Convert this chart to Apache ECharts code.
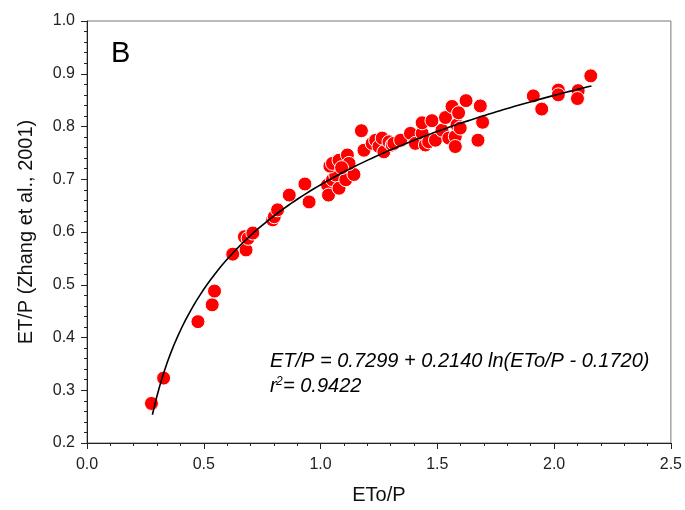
<!DOCTYPE html>
<html>
<head>
<meta charset="utf-8">
<style>html,body{margin:0;padding:0;background:#fff;}#c{width:685px;height:510px;}</style>
<script src="https://cdn.jsdelivr.net/npm/echarts@6/dist/echarts.min.js"></script>
</head>
<body>
<div id="c"></div>
<script>
// Observed data: ETo/P (x) and ET/P (y)
const etoP = [0.276,0.328,0.475,0.536,0.546,0.624,0.681,0.674,0.690,0.710,0.795,0.802,0.816,0.866,0.933,0.951,1.030,1.034,1.051,1.065,1.079,1.108,1.143,1.040,1.051,1.079,1.115,1.122,1.090,1.175,1.186,1.221,1.236,1.250,1.264,1.271,1.293,1.307,1.314,1.343,1.385,1.406,1.435,1.435,1.449,1.463,1.477,1.492,1.520,1.535,1.549,1.563,1.577,1.577,1.584,1.591,1.598,1.623,1.674,1.684,1.694,1.911,1.947,2.018,2.018,2.103,2.100,2.157];
const etP  = [0.275,0.323,0.430,0.462,0.488,0.558,0.566,0.591,0.588,0.598,0.623,0.629,0.642,0.670,0.691,0.657,0.689,0.670,0.699,0.708,0.683,0.699,0.709,0.725,0.730,0.736,0.746,0.730,0.722,0.792,0.755,0.768,0.774,0.762,0.778,0.752,0.771,0.765,0.768,0.774,0.787,0.768,0.787,0.807,0.765,0.771,0.811,0.774,0.793,0.817,0.778,0.838,0.781,0.762,0.803,0.826,0.797,0.849,0.774,0.839,0.808,0.858,0.833,0.869,0.860,0.868,0.853,0.896];
// Fitted regression printed on the chart: ET/P = a + b ln(ETo/P - c)
const fitA = 0.7299, fitB = 0.2140, fitC = 0.1720;
const fitXStart = 0.28, fitXEnd = 2.16;
const xTicks = ['0.0','0.5','1.0','1.5','2.0','2.5'];
const yTicks = ['0.2','0.3','0.4','0.5','0.6','0.7','0.8','0.9','1.0'];

const pts = etoP.map((x,i)=>[x, etP[i]]);
const fit = [];
for (let k=0;k<=120;k++){ const x = fitXStart + (fitXEnd-fitXStart)*k/120; fit.push([x, fitA + fitB*Math.log(x-fitC)]); }

const font = 'Liberation Sans, Arial, sans-serif';
const chart = echarts.init(document.getElementById('c'), null, {renderer:'canvas'});
chart.setOption({
  animation:false,
  backgroundColor:'#fff',
  grid:{left:87,right:12,top:21,bottom:67,show:true,borderColor:'#777',borderWidth:1,backgroundColor:'transparent'},
  xAxis:{type:'value',min:0,max:2.5,interval:0.5,
    name:'ETo/P',nameLocation:'middle',nameGap:42,
    nameTextStyle:{fontFamily:font,fontSize:20,color:'#111'},
    axisLine:{show:true,onZero:false,lineStyle:{color:'#222',width:1}},
    axisTick:{show:true,inside:false,length:6,lineStyle:{color:'#222'}},
    minorTick:{show:true,splitNumber:5,length:3,lineStyle:{color:'#222'}},
    splitLine:{show:false},
    axisLabel:{fontFamily:font,fontSize:16,color:'#222',margin:14,formatter:v=>xTicks[Math.round(v/0.5)]}
  },
  yAxis:{type:'value',min:0.2,max:1.0,interval:0.1,
    name:'ET/P (Zhang et al., 2001)',nameLocation:'middle',nameGap:51,
    nameTextStyle:{fontFamily:font,fontSize:20,color:'#111'},
    axisLine:{show:true,onZero:false,lineStyle:{color:'#222',width:1}},
    axisTick:{show:true,inside:false,length:6,lineStyle:{color:'#222'}},
    minorTick:{show:true,splitNumber:5,length:3,lineStyle:{color:'#222'}},
    splitLine:{show:false},
    axisLabel:{fontFamily:font,fontSize:16,color:'#222',margin:12,formatter:v=>yTicks[Math.round((v-0.2)/0.1)]}
  },
  series:[
    {type:'scatter',data:pts,symbol:'circle',symbolSize:14,
      itemStyle:{color:'#ff0000',borderColor:'#fff',borderWidth:1,opacity:1},z:2},
    {type:'line',data:fit,showSymbol:false,smooth:false,
      lineStyle:{color:'#000',width:1.6},z:3}
  ],
  graphic:[
    {type:'text',left:111,top:39,style:{text:'B',font:'29px '+font,fill:'#000'}},
    {type:'text',x:270,y:361,style:{text:'ET/P = 0.7299 + 0.2140 ln(ETo/P - 0.1720)',font:'italic 20px '+font,fill:'#000',verticalAlign:'middle'}},
    {type:'text',x:270,y:386,style:{text:'r',font:'italic 20px '+font,fill:'#000',verticalAlign:'middle'}},
    {type:'text',x:276,y:376,style:{text:'2',font:'italic 12px '+font,fill:'#000',verticalAlign:'top'}},
    {type:'text',x:283,y:386,style:{text:'= 0.9422',font:'italic 20px '+font,fill:'#000',verticalAlign:'middle'}}
  ]
});
</script>
</body>
</html>
